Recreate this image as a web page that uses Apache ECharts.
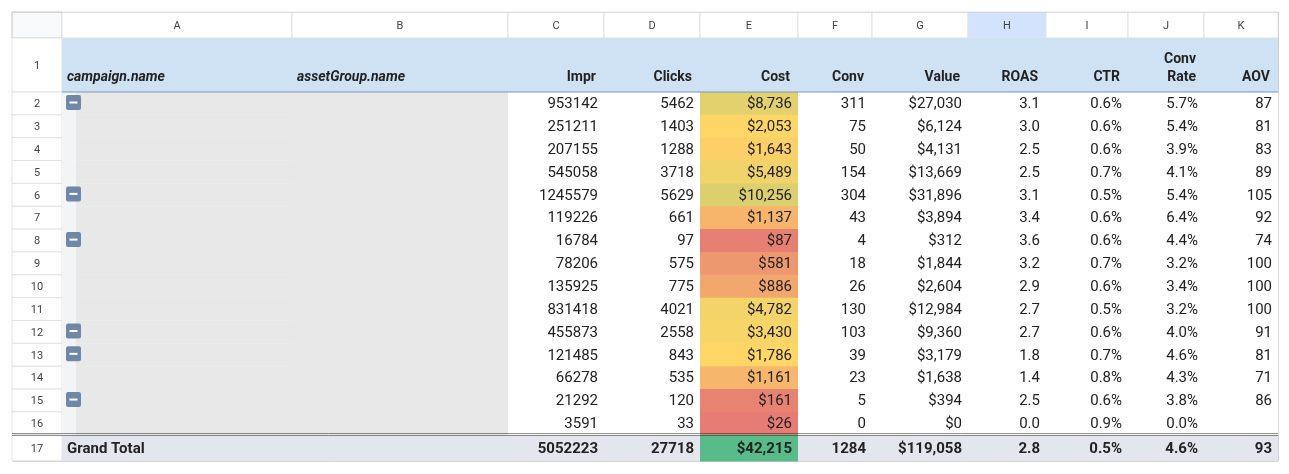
<!DOCTYPE html>
<html><head><meta charset="utf-8">
<script src="https://cdn.jsdelivr.net/npm/echarts@6/dist/echarts.min.js"></script>
<style>html,body{margin:0;background:#fff}#c{width:1289px;height:474px}</style>
</head><body><div id="c"></div>
<script>
// table data
var colLetters = ['A','B','C','D','E','F','G','H','I','J','K'];
var headers = ['campaign.name','assetGroup.name','Impr','Clicks','Cost','Conv','Value','ROAS','CTR','Conv\nRate','AOV'];
var impr = [953142,251211,207155,545058,1245579,119226,16784,78206,135925,831418,455873,121485,66278,21292,3591];
var clicks = [5462,1403,1288,3718,5629,661,97,575,775,4021,2558,843,535,120,33];
var cost = [8736,2053,1643,5489,10256,1137,87,581,886,4782,3430,1786,1161,161,26];
var conv = [311,75,50,154,304,43,4,18,26,130,103,39,23,5,0];
var value = [27030,6124,4131,13669,31896,3894,312,1844,2604,12984,9360,3179,1638,394,0];
var roas = ['3.1','3.0','2.5','2.5','3.1','3.4','3.6','3.2','2.9','2.7','2.7','1.8','1.4','2.5','0.0'];
var ctr = ['0.6%','0.6%','0.6%','0.7%','0.5%','0.6%','0.6%','0.7%','0.6%','0.5%','0.6%','0.7%','0.8%','0.6%','0.9%'];
var convRate = ['5.7%','5.4%','3.9%','4.1%','5.4%','6.4%','4.4%','3.2%','3.4%','3.2%','4.0%','4.6%','4.3%','3.8%','0.0%'];
var aov = ['87','81','83','89','105','92','74','100','100','100','91','81','71','86',''];
var collapseRows = [2,6,8,12,13,15];
var total = ['Grand Total','',5052223,27718,42215,1284,'$119,058','2.8','0.5%','4.6%','93'];

// layout
var colEdges = [12,62,292,508,604,700,798,872,968,1046,1128,1204,1278];
var top0 = 12, hdrH = 26, row1H = 54, rowH = 22.85, totH = 26;
function rowTop(r){
  if (r === 1) return top0 + hdrH;
  return top0 + hdrH + row1H + (r - 2) * rowH;
}
function money(v){ return '$' + v.toLocaleString('en-US'); }

// color scale for Cost
function lerp(a,b,t){return [0,1,2].map(function(i){return Math.round(a[i]+(b[i]-a[i])*t);});}
var allCost = cost.concat([total[4]]).slice().sort(function(a,b){return a-b;});
var cMin = allCost[0], cMax = allCost[allCost.length-1], cMid = allCost[Math.floor(allCost.length/2)];
var RED=[230,124,115], YEL=[255,214,102], GRN=[87,187,138];
function costColor(v){
  var c = v <= cMid ? lerp(RED,YEL,(v-cMin)/(cMid-cMin)) : lerp(YEL,GRN,(v-cMid)/(cMax-cMid));
  return 'rgb('+c.join(',')+')';
}

// cells: [col, row, text, kind, raw]
var cells = [];
cells.push([0,0,'','corner']);
colLetters.forEach(function(l,i){cells.push([i+1,0,l,i===7?'letterSel':'letter']);});
for (var r=1;r<=17;r++) cells.push([0,r,String(r),'rownum']);
headers.forEach(function(h,i){cells.push([i+1,1,h,i<2?'hdrL':'hdrR']);});
for (var k=0;k<impr.length;k++){
  var r2 = k+2;
  cells.push([1,r2,collapseRows.indexOf(r2)>=0?'btn':'','grayA']);
  cells.push([2,r2,'','grayB']);
  var vals=[impr[k],clicks[k],money(cost[k]),conv[k],money(value[k]),roas[k],ctr[k],convRate[k],aov[k]];
  vals.forEach(function(v,j){cells.push([j+3,r2,String(v),j===2?'cost':'num',cost[k]]);});
}
total.forEach(function(v,j){
  var t = j===2||j===3||j===5 ? String(v) : (j===4?money(v):v);
  cells.push([j+1,17,t,j===4?'totCost':(j===0?'totL':'tot'),v]);
});

function renderItem(params, api){
  var c = api.value(0), r = api.value(1);
  var d = cells[params.dataIndex];
  var kind = d[3], txt = d[2];
  var x0 = api.coord([colEdges[c], 0])[0], x1 = api.coord([colEdges[c+1], 0])[0];
  var yT = r===0 ? top0 : rowTop(r);
  var yB = r===0 ? top0+hdrH : (r===1 ? rowTop(2) : (r===17 ? rowTop(17)+totH : rowTop(r+1)));
  var y0 = api.coord([0,yT])[1], y1 = api.coord([0,yB])[1];
  var w = x1-x0, h = y1-y0;
  var fill='#fff', stroke=null, font='15px Roboto', color='#222', align='right', tx=x1-6, ty=y0+h/2+1, vAlign='middle';
  var children=[];
  if (kind==='corner'){fill='#f8f9fa';stroke='#c4c7c5';}
  else if (kind==='letter'||kind==='letterSel'){fill=kind==='letterSel'?'#d3e3fd':'#fff';stroke='#e1e3e1';align='center';tx=x0+w/2;font='11px Roboto';color='#444';}
  else if (kind==='rownum'){fill='#fff';stroke='#e1e3e1';align='center';tx=x0+w/2;font='11px Roboto';color='#444';}
  else if (kind==='hdrL'||kind==='hdrR'){fill='#cfe2f3';font='italic bold 14px Roboto';if(kind==='hdrR')font='bold 14px Roboto';
    align=kind==='hdrL'?'left':'right';tx=kind==='hdrL'?x0+5:x1-8;ty=y1-6;vAlign='bottom';}
  else if (kind==='grayA'){fill='#f3f4f6';}
  else if (kind==='grayB'){fill='#e8e8e8';}
  else if (kind==='cost'){fill=costColor(d[4]);}
  else if (kind==='tot'||kind==='totL'){fill='#e3e6ec';font='bold 15px Roboto';if(kind==='totL'){align='left';tx=x0+5;}}
  else if (kind==='totCost'){fill=costColor(d[4]);font='bold 15px Roboto';}
  children.push({type:'rect',shape:{x:x0,y:y0,width:w+(stroke?0:1),height:h+(stroke?0:1)},style:{fill:fill,stroke:stroke,lineWidth:1}});
  if (kind==='grayA'){
    children.push({type:'rect',shape:{x:x0+14,y:y0,width:w-13,height:h+1},style:{fill:'#e8e8e8'}});
  }
  if (txt==='btn'){
    children.push({type:'rect',shape:{x:x0+4,y:y0+3,width:15,height:15,r:2},style:{fill:'#7088a8'}});
    children.push({type:'rect',shape:{x:x0+7.5,y:y0+9.5,width:8,height:2},style:{fill:'#fff'}});
  } else if (txt){
    children.push({type:'text',style:{x:tx,y:ty,text:txt,font:font,fill:color,align:align,verticalAlign:vAlign,lineHeight:18}});
  }
  return {type:'group',children:children};
}

var chart = echarts.init(document.getElementById('c'));
chart.setOption({
  animation:false,
  grid:{left:0,right:0,top:0,bottom:0},
  xAxis:{type:'value',min:0,max:1289,show:false},
  yAxis:{type:'value',min:0,max:474,inverse:true,show:false},
  series:[{
    type:'custom',
    renderItem:renderItem,
    data:cells.map(function(d){return [d[0],d[1]];}),
    z:2
  },{
    type:'lines',coordinateSystem:'cartesian2d',polyline:false,silent:true,z:5,
    data:[
      {coords:[[62,rowTop(2)],[1278,rowTop(2)]],lineStyle:{color:'#7d96b8',width:2}},
      {coords:[[12,rowTop(17)-2],[1278,rowTop(17)-2]],lineStyle:{color:'#222',width:1}},
      {coords:[[12,rowTop(17)],[1278,rowTop(17)]],lineStyle:{color:'#222',width:1}},
      {coords:[[12,top0],[1278,top0]],lineStyle:{color:'#ccc',width:1}},
      {coords:[[1278,top0],[1278,rowTop(17)+totH]],lineStyle:{color:'#bbb',width:1}},
      {coords:[[12,rowTop(17)+totH],[1278,rowTop(17)+totH]],lineStyle:{color:'#bbb',width:1}}
    ]
  }]
});
</script></body></html>
